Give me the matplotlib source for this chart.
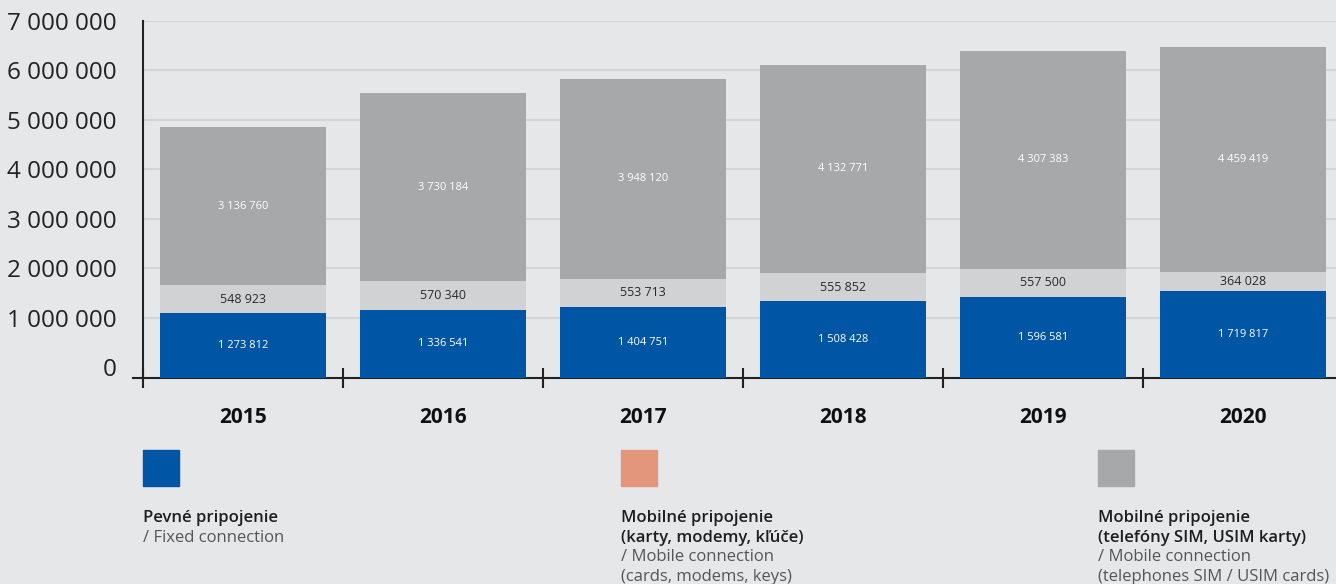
"""
plot.py - stacked bars of fixed and mobile connections 2015-2020
"""

import numpy as np
import matplotlib
matplotlib.use("Agg")
from matplotlib import pyplot as plt
from matplotlib.patches import Rectangle
from matplotlib.lines import Line2D

years = ["2015", "2016", "2017", "2018", "2019", "2020"]
fixed = [1273812, 1336541, 1404751, 1508428, 1596581, 1719817]
cards = [548923, 570340, 553713, 555852, 557500, 364028]
sim = [3136760, 3730184, 3948120, 4132771, 4307383, 4459419]
yticks = [0, 1000000, 2000000, 3000000, 4000000, 5000000, 6000000, 7000000]

BG = "#e6e7e9"
BLUE = "#0055a4"
LIGHT = "#d1d2d4"
DARK = "#a7a8aa"
SALMON = "#e3967b"

plt.rcParams["font.family"] = ["Open Sans", "DejaVu Sans"]


def fmt(v):
    return f"{v:,}".replace(",", " ")


def main():
    fig = plt.figure(figsize=(13.36, 5.84), dpi=100, facecolor=BG)
    W, H = 1336, 584
    top_px, base_px = 20.5, 377.5
    ax = fig.add_axes([143 / W, 1 - base_px / H, (1336 - 143) / W,
                       (base_px - top_px) / H])
    ax.set_facecolor(BG)

    # the grid in the original sits ~10px above the baseline of the bars,
    # so the bars get their own (twin) scale starting at the axis line
    grid_scale = 49.55  # px per million
    ax.set_ylim(-10.2 / grid_scale * 1e6, 7000000)
    bx = ax.twinx()
    bx.set_ylim(0, (base_px - top_px) / 50.5 * 1e6)
    bx.set_axis_off()

    x = np.arange(len(years))
    width = 0.83
    fixed_a = np.array(fixed)
    cards_a = np.array(cards)
    sim_a = np.array(sim)

    bx.bar(x, fixed_a, width, color=BLUE, zorder=3)
    bx.bar(x, cards_a, width, bottom=fixed_a, color=LIGHT, zorder=3)
    bx.bar(x, sim_a, width, bottom=fixed_a + cards_a, color=DARK, zorder=3)

    for i in x:
        bx.text(i, fixed_a[i] / 2, fmt(fixed[i]), ha="center", va="center",
                color="white", fontsize=8, zorder=4)
        bx.text(i, fixed_a[i] + cards_a[i] / 2, fmt(cards[i]), ha="center",
                va="center", color="#2a2a2a", fontsize=9, zorder=4)
        bx.text(i, fixed_a[i] + cards_a[i] + sim_a[i] / 2, fmt(sim[i]),
                ha="center", va="center", color="white", fontsize=8, zorder=4)

    ax.set_xlim(-0.5, -0.5 + (1336 - 143) / 200)
    bx.set_xlim(ax.get_xlim())

    ax.set_yticks(yticks)
    ax.set_yticklabels([fmt(v) for v in yticks], fontsize=17.5,
                       color="#222222", va="center_baseline")
    ax.tick_params(axis="y", length=0, pad=19)
    ax.yaxis.grid(True, color="#d3d4d6", linewidth=1.5, zorder=0)
    ax.set_axisbelow(True)
    ax.get_ygridlines()[0].set_visible(False)

    ax.set_xticks(np.arange(len(years)) - 0.5)
    ax.set_xticklabels([])
    ax.tick_params(axis="x", direction="inout", length=14, width=1.5,
                   color="#222222")
    for i, y in enumerate(years):
        ax.text(i, -0.113, y, transform=ax.get_xaxis_transform(), ha="center",
                va="center", fontsize=15, fontweight="bold", color="#111111")

    for s in ["top", "right"]:
        ax.spines[s].set_visible(False)
    ax.spines["left"].set_color("#222222")
    ax.spines["left"].set_linewidth(1.5)
    ax.spines["bottom"].set_color("#222222")
    ax.spines["bottom"].set_linewidth(1.5)
    ax.add_line(Line2D([-0.008, 0], [0, 0], transform=ax.transAxes,
                       color="#222222", linewidth=1.5, clip_on=False))

    # legend
    items = [
        (143, BLUE, ["Pevné pripojenie"], ["/ Fixed connection"]),
        (621, SALMON, ["Mobilné pripojenie", "(karty, modemy, kľúče)"],
         ["/ Mobile connection", "(cards, modems, keys)"]),
        (1098, DARK, ["Mobilné pripojenie", "(telefóny SIM, USIM karty)"],
         ["/ Mobile connection", "(telephones SIM / USIM cards)"]),
    ]
    for px, col, sk, en in items:
        fig.add_artist(Rectangle((px / W, 1 - 486 / H), 36 / W, 36 / H,
                                 color=col, transform=fig.transFigure))
        y = 518
        for line in sk:
            fig.text(px / W, 1 - y / H, line, ha="left", va="center",
                     fontsize=12, fontweight="semibold", color="#1e1e1e")
            y += 19.6
        for line in en:
            fig.text(px / W, 1 - y / H, line, ha="left", va="center",
                     fontsize=12, color="#555555")
            y += 19.6

    fig.savefig("out.png", dpi=100, facecolor=BG)


if __name__ == "__main__":
    main()
